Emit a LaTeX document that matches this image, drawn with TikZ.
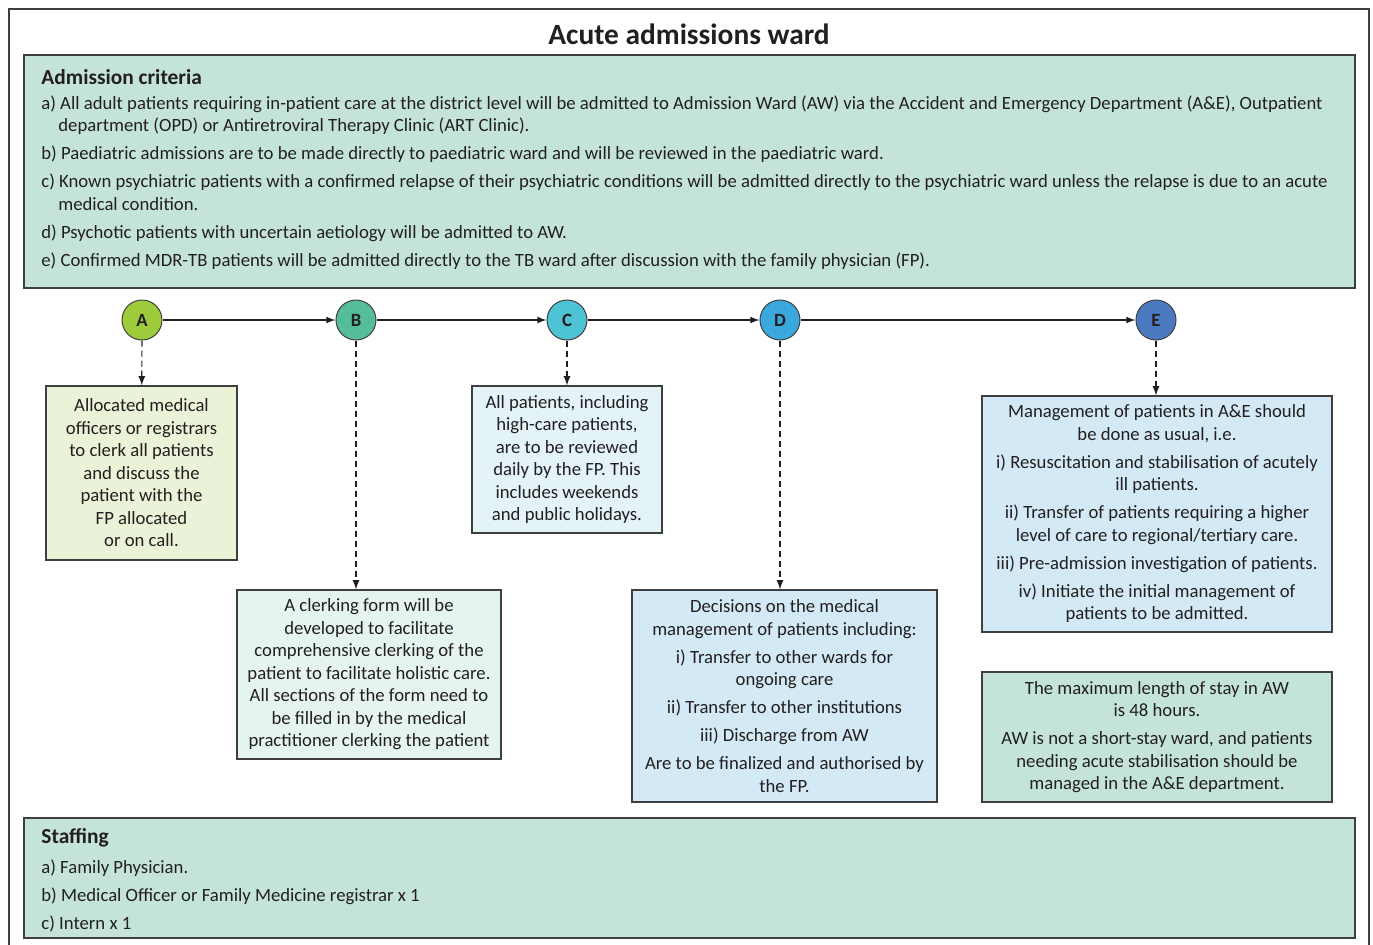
\documentclass[tikz,border=0pt]{standalone}
\usepackage{fontspec}
\setmainfont{Carlito}
\usetikzlibrary{arrows}

\definecolor{wardgreen}{HTML}{C4E4DA}
\definecolor{linegray}{HTML}{3F3F3F}
\definecolor{txtgray}{HTML}{231F20}
\definecolor{stagea}{HTML}{9DCB3B}
\definecolor{stageb}{HTML}{55BD98}
\definecolor{stagec}{HTML}{4EC3D5}
\definecolor{staged}{HTML}{3AA7DF}
\definecolor{stagee}{HTML}{4A7BC1}
\definecolor{notea}{HTML}{EAF3D8}
\definecolor{noteb}{HTML}{E6F4EF}
\definecolor{notec}{HTML}{E3F3F8}
\definecolor{noted}{HTML}{D3E9F6}

\begin{document}
\begin{tikzpicture}[x=0.5pt, y=-0.5pt, >=latex,
		every node/.style={text=txtgray, font=\fontsize{9.35}{11.25}\selectfont},
		panel/.style={draw=linegray, line width=0.6pt, fill=wardgreen},
		head/.style={anchor=west, inner sep=0pt, font=\fontsize{10.7}{12}\selectfont\bfseries},
		stage/.style={circle, draw=linegray, line width=0.5pt, minimum size=20pt, inner sep=0pt, font=\fontsize{9.35}{11}\selectfont\bfseries},
		note/.style={draw=linegray, line width=0.6pt, align=center, inner sep=0pt},
		flow/.style={->, line width=0.6pt, draw=txtgray},
		drop/.style={->, dashed, dash pattern=on 3pt off 2pt, line width=0.6pt, draw=txtgray}]
		\useasboundingbox (0,0) rectangle (1373,944);

		% outer frame and title
		\draw [linegray, line width=0.6pt] (9,9) rectangle (1369,970);
		\node [font=\fontsize{14.7}{17}\selectfont\bfseries] (title) at (689,34) {Acute admissions ward};

		% admission criteria
		\draw [panel] (24,55) rectangle (1355,288);
		\node [head] (crithead) at (41,77) {Admission criteria};
		\node [anchor=north west, align=left, inner sep=0pt] (critlist) at (41,95) {%
			a) All adult patients requiring in-patient care at the district level will be admitted to Admission Ward (AW) via the Accident and Emergency Department (A\&E), Outpatient\\
			\hspace*{8.5pt}department (OPD) or Antiretroviral Therapy Clinic (ART Clinic).\\[2.75pt]
			b) Paediatric admissions are to be made directly to paediatric ward and will be reviewed in the paediatric ward.\\[2.75pt]
			c) Known psychiatric patients with a confirmed relapse of their psychiatric conditions will be admitted directly to the psychiatric ward unless the relapse is due to an acute\\
			\hspace*{8.5pt}medical condition.\\[2.75pt]
			d) Psychotic patients with uncertain aetiology will be admitted to AW.\\[2.75pt]
			e) Confirmed MDR-TB patients will be admitted directly to the TB ward after discussion with the family physician (FP).};

		% stages
		\node [stage, fill=stagea] (a) at (142,320) {A};
		\node [stage, fill=stageb] (b) at (356,320) {B};
		\node [stage, fill=stagec] (c) at (567,320) {C};
		\node [stage, fill=staged] (d) at (780,320) {D};
		\node [stage, fill=stagee] (e) at (1156,320) {E};
		\draw [flow] (a) -- (b);
		\draw [flow] (b) -- (c);
		\draw [flow] (c) -- (d);
		\draw [flow] (d) -- (e);

		% notes under each stage
		\node [note, fill=notea, minimum width=95.5pt, minimum height=87pt] (notea) at (141.5,473) {Allocated medical\\officers or registrars\\to clerk all patients\\and discuss the\\patient with the\\FP allocated\\or on call.};
		\node [note, fill=noteb, minimum width=132pt, minimum height=84.5pt] (noteb) at (369,674.5) {A clerking form will be\\developed to facilitate\\comprehensive clerking of the\\patient to facilitate holistic care.\\All sections of the form need to\\be filled in by the medical\\practitioner clerking the patient};
		\node [note, fill=notec, minimum width=95pt, minimum height=73.5pt] (notec) at (567,459.5) {All patients, including\\high-care patients,\\are to be reviewed\\daily by the FP. This\\includes weekends\\and public holidays.};
		\node [note, fill=noted, minimum width=152.5pt, minimum height=106pt] (noted) at (784.5,696) {Decisions on the medical\\management of patients including:\\[2.75pt]i) Transfer to other wards for\\ongoing care\\[2.75pt]ii) Transfer to other institutions\\[2.75pt]iii) Discharge from AW\\[2.75pt]Are to be finalized and authorised by\\the FP.};
		\node [note, fill=noted, minimum width=175pt, minimum height=118pt] (notee) at (1157,514) {Management of patients in A\&E should\\be done as usual, i.e.\\[2.75pt]i) Resuscitation and stabilisation of acutely\\ill patients.\\[2.75pt]ii) Transfer of patients requiring a higher\\level of care to regional/tertiary care.\\[2.75pt]iii) Pre-admission investigation of patients.\\[2.75pt]iv) Initiate the initial management of\\patients to be admitted.};
		\node [note, fill=wardgreen, minimum width=175pt, minimum height=65pt] (stay) at (1157,737) {The maximum length of stay in AW\\is 48 hours.\\[2.75pt]AW is not a short-stay ward, and patients\\needing acute stabilisation should be\\managed in the A\&E department.};

		% dashed drops
		\draw [drop] (a) -- (notea);
		\draw [drop] (b) -- (b |- noteb.north);
		\draw [drop] (c) -- (notec);
		\draw [drop] (d) -- (d |- noted.north);
		\draw [drop] (e) -- (e |- notee.north);

		% staffing
		\draw [panel] (24,818) rectangle (1355,938);
		\node [head] (staffhead) at (41,838) {Staffing};
		\node [anchor=north west, align=left, inner sep=0pt] (stafflist) at (41,859) {%
			a) Family Physician.\\[2.75pt]
			b) Medical Officer or Family Medicine registrar x 1\\[2.75pt]
			c) Intern x 1};
	\end{tikzpicture}
\end{document}
